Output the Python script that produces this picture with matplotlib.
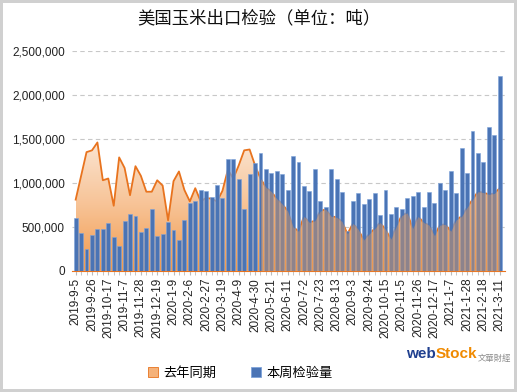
import matplotlib
matplotlib.use('Agg')
import matplotlib.pyplot as plt
import numpy as np
import pandas as pd
from matplotlib.colors import LinearSegmentedColormap
from matplotlib.patches import Patch
from matplotlib.ticker import FuncFormatter

plt.rcParams['font.family'] = ['Liberation Sans', 'Noto Sans CJK SC', 'DejaVu Sans']

# weekly dates (one week in Jan 2020 missing from the source data)
dates = pd.date_range('2019-09-05', '2021-03-11', freq='7D')
dates = dates[dates != pd.Timestamp('2020-01-30')]
labels = [f'{d.year}-{d.month}-{d.day}' for d in dates]

# 本周检验量 (tonnes)
this_week = [600000, 430000, 250000, 410000, 480000, 480000, 540000, 380000, 285000, 570000,
             650000, 620000, 440000, 490000, 700000, 400000, 420000, 560000, 470000, 350000,
             575000, 770000, 800000, 920000, 910000, 845000, 980000, 830000, 1270000, 1270000,
             1040000, 700000, 1100000, 1230000, 1340000, 1160000, 1115000, 1130000, 1100000, 925000,
             1305000, 1240000, 970000, 910000, 1160000, 800000, 730000, 1160000, 1050000, 900000,
             450000, 790000, 890000, 765000, 820000, 880000, 640000, 920000, 650000, 730000,
             700000, 830000, 850000, 900000, 730000, 900000, 770000, 1000000, 925000, 1130000,
             890000, 1400000, 1110000, 1590000, 1340000, 1240000, 1640000, 1550000, 2210000]

# 去年同期 (tonnes)
last_year = [810000, 1080000, 1350000, 1370000, 1460000, 1030000, 1050000, 740000, 1290000, 1170000,
             860000, 1190000, 1080000, 900000, 900000, 1030000, 970000, 575000, 1020000, 1130000,
             920000, 790000, 940000, 790000, 830000, 820000, 790000, 910000, 1150000, 1050000,
             1200000, 1370000, 1380000, 1200000, 1050000, 950000, 900000, 820000, 760000, 680000,
             500000, 450000, 620000, 550000, 570000, 680000, 700000, 620000, 610000, 560000,
             420000, 540000, 470000, 350000, 420000, 480000, 550000, 470000, 360000, 510000,
             630000, 660000, 480000, 620000, 550000, 520000, 400000, 520000, 530000, 450000,
             580000, 620000, 720000, 810000, 900000, 890000, 870000, 880000, 940000]

x = np.arange(len(labels))
ly = np.array(last_year)

fig = plt.figure(figsize=(5.17, 3.92), dpi=100)
fig.patch.set_edgecolor('#d0d0d0')
fig.patch.set_linewidth(3)
ax = fig.add_axes([0.139, 0.309, 0.838, 0.561])

# gradient area for last year
area = ax.fill_between(x, 0, ly, color='none', lw=0, zorder=1)
cmap = LinearSegmentedColormap.from_list('org', ['#f29a4c', '#f7c396', '#fbe6d4'])
grad = np.linspace(0, 1, 256).reshape(-1, 1)
im = ax.imshow(grad, cmap=cmap, origin='lower', aspect='auto',
               extent=[x[0], x[-1], 0, 1500000], zorder=1)
im.set_clip_path(area.get_paths()[0], transform=ax.transData)
ax.plot(x, ly, color='#e8731e', lw=1.3, zorder=2)

ax.bar(x, this_week, width=0.72, color='#4a74b5', edgecolor='#7ea3da', linewidth=0.4, zorder=3)

# later part of the area shows through the bars
m = x >= 34
ax.fill_between(x[m], 0, ly[m], color='#e0965a', alpha=0.45, lw=0, zorder=4)

ax.set_xlim(-0.7, 79.0)
ax.set_ylim(0, 2500000)
ax.set_yticks(np.arange(0, 2500001, 500000))
ax.yaxis.set_major_formatter(FuncFormatter(lambda v, p: f'{int(v):,}'))
ax.grid(axis='y', color='#c8c8c8', linestyle=(0, (4, 3)), linewidth=0.8, zorder=0)
ax.set_axisbelow(True)
for s in ['top', 'right', 'left']:
    ax.spines[s].set_visible(False)
ax.spines['bottom'].set_color('#e8731e')

ax.set_xticks(x, minor=True)
ax.set_xticks(x[::3])
ax.set_xticklabels(labels[::3], rotation=90, fontsize=8.5, color='#222222')
ax.tick_params(axis='x', which='both', length=3, color='#bbbbbb', pad=2)
ax.tick_params(axis='y', length=0, labelsize=8.5, labelcolor='#222222', pad=5)

fig.text(0.5, 0.953, '美国玉米出口检验（单位：吨）', ha='center', va='center',
         fontsize=12.5, family=['Noto Sans CJK SC'], color='#111111')

handles = [Patch(facecolor='#f5b27a', edgecolor='#e8731e', linewidth=0.6),
           Patch(facecolor='#4a74b5', edgecolor='#7ea3da', linewidth=0.6)]
fig.legend(handles, ['去年同期', '本周检验量'], loc='center', bbox_to_anchor=(0.465, 0.048),
           ncol=2, frameon=False, handlelength=0.8, handleheight=0.8,
           handletextpad=0.4, columnspacing=2.6, prop={'family': ['Noto Sans CJK SC'], 'size': 9.5})

# watermark
fig.text(0.785, 0.098, 'web', fontsize=11, color='#1f3f8f', weight='bold', ha='left', va='center')
fig.text(0.842, 0.098, 'Stock', fontsize=11, color='#f08a00', weight='bold', ha='left', va='center')
fig.text(0.925, 0.085, '文華財經', fontsize=6, color='#8a8a8a', ha='left', va='center',
         family=['Noto Sans CJK TC'])

fig.savefig('out.png', dpi=100)
